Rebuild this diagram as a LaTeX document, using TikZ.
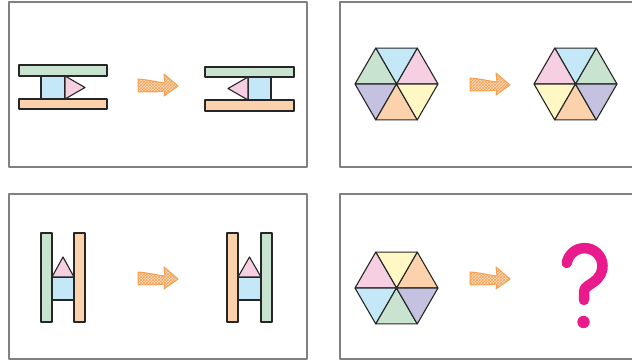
\documentclass[tikz,border=0pt]{standalone}
\usetikzlibrary{patterns}
\definecolor{triGreen}{RGB}{200,228,208}
\definecolor{triBlue}{RGB}{196,232,247}
\definecolor{triPink}{RGB}{246,208,226}
\definecolor{triOrange}{RGB}{252,210,172}
\definecolor{triPurple}{RGB}{196,194,224}
\definecolor{triYellow}{RGB}{255,248,196}
\definecolor{arrowOrange}{RGB}{244,160,78}
\definecolor{qMagenta}{RGB}{232,26,140}
\begin{document}
\begin{tikzpicture}[x=1pt, y=1pt, line join=round, line cap=round,
  frame/.style={draw=black!50, line width=1.2pt},
  piece/.style={draw=black!85, line width=1.1pt},
  arrowbody/.style={draw=arrowOrange, line width=1pt, fill=arrowOrange!30,
    postaction={pattern=crosshatch, pattern color=arrowOrange}},
  pics/hatcharrow/.style={code={
    \draw[arrowbody] (0,6) .. controls (12,5) and (18,3) .. (27,2) -- (26,11)
      -- (40,-1) -- (26,-11) -- (27,-6) .. controls (18,-7) .. (0,-7) -- cycle;
  }}]
  \clip (0,0) rectangle (632,364);
  \path (9,197) coordinate (P1a) (307,362) coordinate (P1b)
  (340,197) coordinate (P2a) (640,362) coordinate (P2b)
  (9,5) coordinate (P3a) (307,170) coordinate (P3b)
  (340,5) coordinate (P4a) (640,170) coordinate (P4b)
  (138,279) coordinate (A1) (470,280) coordinate (A2)
  (138,86) coordinate (A3) (470,86) coordinate (A4)
  (396.5,280) coordinate (H1) (575.5,280) coordinate (H2)
  (396.5,76) coordinate (H3);
  \foreach \p in {1,2,3,4}
  \draw[frame] (P\p a) rectangle (P\p b);
  % panel 1
  \draw[piece, fill=triGreen] (19,288) rectangle (107,299);
  \draw[piece, fill=triBlue] (41,265) rectangle (65,288);
  \draw[piece, fill=triPink] (65,288) -- (65,265) -- (85,276.5) -- cycle;
  \draw[piece, fill=triOrange] (19,255) rectangle (107,265);
  \draw[piece, fill=triGreen] (205,287) rectangle (294,297);
  \draw[piece, fill=triBlue] (248,264) rectangle (271,287);
  \draw[piece, fill=triPink] (248,287) -- (248,264) -- (228,275.5) -- cycle;
  \draw[piece, fill=triOrange] (205,253) rectangle (294,264);
  % panel 2 and 4
  \foreach \a/\c in {0/triPink, 60/triBlue, 120/triGreen, 180/triPurple, 240/triOrange, 300/triYellow}
  \draw[piece, fill=\c] (H1) -- ++(\a:41.5) -- ++(\a+120:41.5) -- cycle;
  \foreach \a/\c in {0/triGreen, 60/triBlue, 120/triPink, 180/triYellow, 240/triOrange, 300/triPurple}
  \draw[piece, fill=\c] (H2) -- ++(\a:41.5) -- ++(\a+120:41.5) -- cycle;
  \foreach \a/\c in {0/triOrange, 60/triYellow, 120/triPink, 180/triBlue, 240/triGreen, 300/triPurple}
  \draw[piece, fill=\c] (H3) -- ++(\a:41.5) -- ++(\a+120:41.5) -- cycle;
  % panel 3
  \draw[piece, fill=triGreen] (41,42) rectangle (52,131);
  \draw[piece, fill=triOrange] (74,42) rectangle (85,131);
  \draw[piece, fill=triBlue] (52,64) rectangle (74,87);
  \draw[piece, fill=triPink] (52,87) -- (74,87) -- (63,107) -- cycle;
  \draw[piece, fill=triOrange] (227,42) rectangle (238,131);
  \draw[piece, fill=triGreen] (261,42) rectangle (272,131);
  \draw[piece, fill=triBlue] (238,64) rectangle (261,87);
  \draw[piece, fill=triPink] (238,87) -- (261,87) -- (249.5,107) -- cycle;
  % arrows
  \foreach \p in {A1,A2,A3,A4}
  \pic at (\p) {hatcharrow};
  % question mark
  \draw[qMagenta, line width=10.5pt] (566.8,101) arc[start angle=170, end angle=-45, radius=18]
    .. controls (590,78) and (584,78) .. (584,72) -- (584,64);
  \fill[qMagenta] (583.5,42) circle (6.2);
\end{tikzpicture}
\end{document}
